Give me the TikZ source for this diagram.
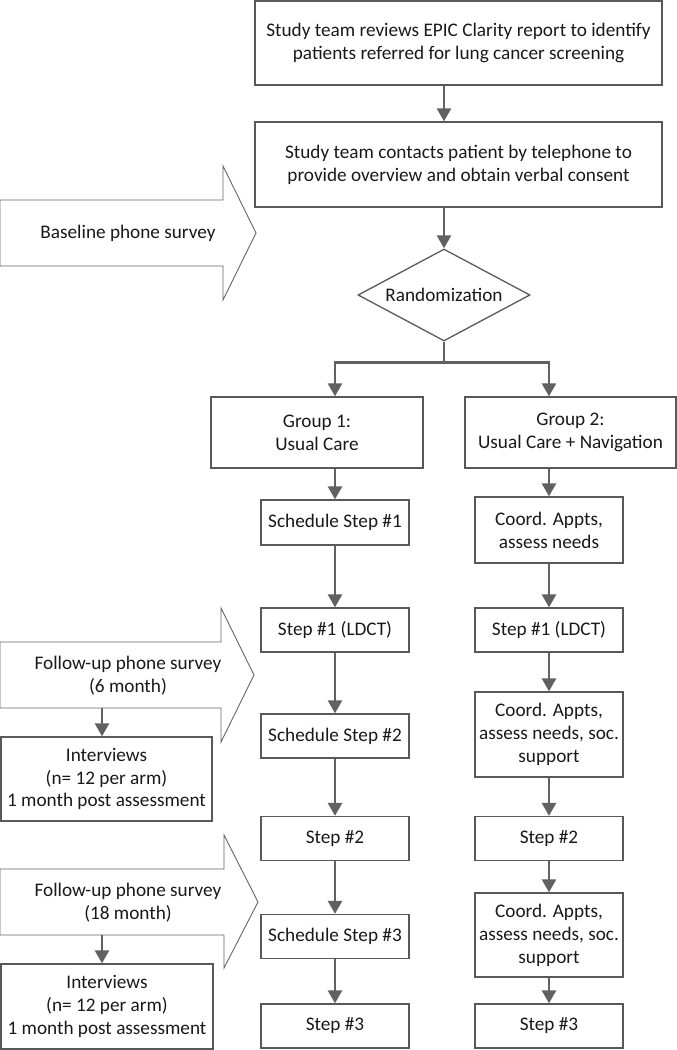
\documentclass[tikz,border=0pt]{standalone}
\usepackage{fontspec}
\setmainfont{Carlito}
\usetikzlibrary{arrows.meta,shapes.geometric}

\begin{document}
\begin{tikzpicture}[x=1bp, y=-1bp,
        every node/.style={font=\fontsize{19.3}{23}\selectfont, text=black!90, align=center},
        box/.style={draw=black!65, line width=1.3bp, rectangle, inner sep=0pt},
        arr/.style={draw=black!62, line width=2.6bp, -{Triangle[length=13bp,width=14bp]}},
        survey/.style={draw=black!60, line width=0.9bp, fill=white}]
        \useasboundingbox (0,0) rectangle (677,1050);

        % main trunk
        \node[box, minimum width=407bp, minimum height=84bp] (clarity) at (458.5,43) {Study team reviews EPIC Clarity report to identify\\patients referred for lung cancer screening};
        \node[box, minimum width=407bp, minimum height=85bp] (consent) at (458.5,164.5) {Study team contacts patient by telephone to\\provide overview and obtain verbal consent};
        \node[box, diamond, aspect=1.87, minimum width=172bp, minimum height=92bp] (rand) at (444,295) {Randomization};

        \node[box, minimum width=212bp, minimum height=71bp] (g1) at (317,432.5) {Group 1:\\Usual Care};
        \node[box, minimum width=211bp, minimum height=71bp] (g2) at (570.5,432.5) {Group 2:\\Usual Care + Navigation};

        % group 1
        \node[box, minimum width=148bp, minimum height=45bp] (sch1) at (335,522.5) {Schedule Step \#1};
        \node[box, minimum width=148bp, minimum height=44bp] (ldct1) at (335,630) {Step \#1 (LDCT)};
        \node[box, minimum width=148bp, minimum height=44bp] (sch2) at (335,736) {Schedule Step \#2};
        \node[box, minimum width=148bp, minimum height=44bp] (stp2a) at (335,838.5) {Step \#2};
        \node[box, minimum width=148bp, minimum height=44bp] (sch3) at (335,936.5) {Schedule Step \#3};
        \node[box, minimum width=148bp, minimum height=44bp] (stp3a) at (335,1026) {Step \#3};

        % group 2
        \node[box, minimum width=148bp, minimum height=66bp] (co1) at (549,530) {Coord. Appts,\\assess needs};
        \node[box, minimum width=148bp, minimum height=44bp] (ldct2) at (549,630) {Step \#1 (LDCT)};
        \node[box, minimum width=148bp, minimum height=85bp] (co2) at (549,734.5) {Coord. Appts,\\assess needs, soc.\\support};
        \node[box, minimum width=148bp, minimum height=44bp] (stp2b) at (549,838.5) {Step \#2};
        \node[box, minimum width=148bp, minimum height=84bp] (co3) at (549,935) {Coord. Appts,\\assess needs, soc.\\support};
        \node[box, minimum width=148bp, minimum height=44bp] (stp3b) at (549,1026) {Step \#3};

        % surveys
        \draw[survey] (0,200) -- (223,200) -- (223,166) -- (256,233) -- (223,300) -- (223,266) -- (0,266) -- cycle;
        \node (base) at (128,233) {Baseline phone survey};
        \draw[survey] (0,642) -- (221,642) -- (221,608) -- (254,675) -- (221,742) -- (221,708) -- (0,708) -- cycle;
        \node (fu1) at (128,676) {Follow-up phone survey\\(6 month)};
        \draw[survey] (0,869) -- (224,869) -- (224,835) -- (258,902) -- (224,968) -- (224,935) -- (0,935) -- cycle;
        \node (fu2) at (128,903) {Follow-up phone survey\\(18 month)};
        \coordinate (fu1b) at (102,708);
        \coordinate (fu2b) at (102,935);

        \node[box, minimum width=211bp, minimum height=84bp] (int1) at (106.5,779) {Interviews\\(n= 12 per arm)\\1 month post assessment};
        \node[box, minimum width=212bp, minimum height=85bp] (int2) at (107,1006.5) {Interviews\\(n= 12 per arm)\\1 month post assessment};

        % connectors
        \draw[arr] (clarity.south -| rand) -- (consent.north -| rand);
        \draw[arr] (consent.south -| rand) -- (rand);
        \draw[arr] (rand.south) -- ++(0,21) -| (g1.north -| sch1);
        \draw[arr] (rand.south) -- ++(0,21) -| (g2.north -| co1);

        \draw[arr] (g1.south -| sch1) -- (sch1);
        \draw[arr] (sch1) -- (ldct1);
        \draw[arr] (ldct1) -- (sch2);
        \draw[arr] (sch2) -- (stp2a);
        \draw[arr] (stp2a) -- (sch3);
        \draw[arr] (sch3) -- (stp3a);

        \draw[arr] (g2.south -| co1) -- (co1);
        \draw[arr] (co1) -- (ldct2);
        \draw[arr] (ldct2) -- (co2);
        \draw[arr] (co2) -- (stp2b);
        \draw[arr] (stp2b) -- (co3);
        \draw[arr] (co3) -- (stp3b);

        \draw[arr] (fu1b) -- (int1.north -| fu1b);
        \draw[arr] (fu2b) -- (int2.north -| fu2b);
\end{tikzpicture}
\end{document}
